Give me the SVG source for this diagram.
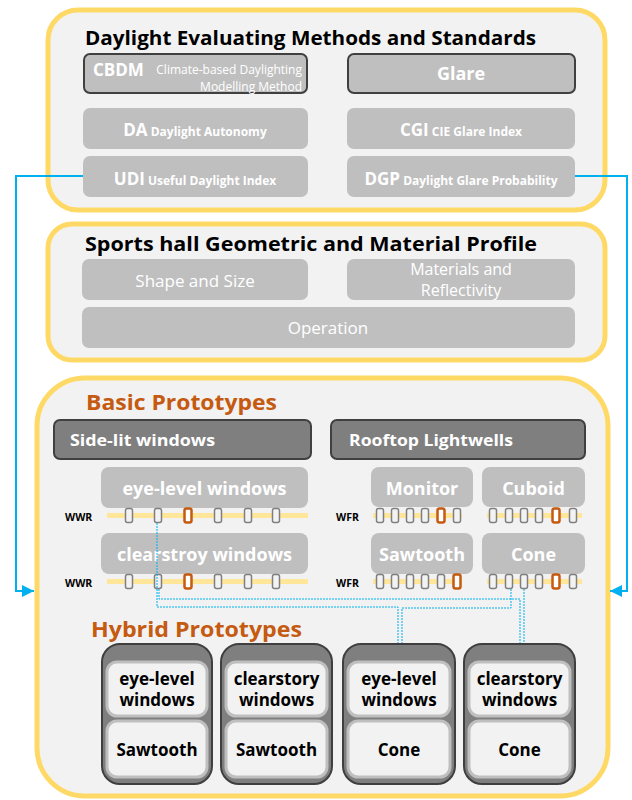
<svg xmlns="http://www.w3.org/2000/svg" width="632" height="800" viewBox="0 0 632 800">
<defs>
<style>
.panel{fill:#f2f2f2;stroke:#ffd966;stroke-width:5}
.gb{fill:#bfbfbf}
.gbs{fill:#bfbfbf;stroke:#404040;stroke-width:2}
.db{fill:#7f7f7f;stroke:#404040;stroke-width:2}
.hb{fill:#7f7f7f;stroke:#3f3f3f;stroke-width:2}
.hi{fill:#f2f2f2;stroke:#bfbfbf;stroke-width:3}
.f{font-family:"Open Sans","Noto Sans","DejaVu Sans",sans-serif}
.w{fill:#ffffff}
.b{font-weight:bold}
.k{fill:#000000}
.o{fill:#c55a11}
.bar{fill:#ffe699}
.mk{fill:#f2f2f2;stroke:#7f7f7f;stroke-width:1.5}
.mko{fill:#ffffff;stroke:#c55a11;stroke-width:2.5}
.conn{fill:none;stroke:#00b0f0;stroke-width:2}
.dot{fill:none;stroke:#00b0f0;stroke-width:1;stroke-dasharray:2 1}
.lbl{font-size:10.5px;font-weight:bold;fill:#000}
</style>
<marker id="arr" viewBox="0 0 10 10" refX="10" refY="5" markerWidth="6" markerHeight="6" orient="auto" markerUnits="strokeWidth">
<path d="M0,0 L10,5 L0,10 z" fill="#00b0f0"/>
</marker>
<rect id="m" x="-3.5" y="-7" width="7" height="14" rx="2"/>
</defs>

<!-- Panels -->
<g id="panel-evaluating">
<rect class="panel" x="48" y="10" width="557" height="200" rx="30"/>
<text class="f b k" x="85" y="45" font-size="20" textLength="451" lengthAdjust="spacingAndGlyphs">Daylight Evaluating Methods and Standards</text>
</g>
<g id="node-cbdm">
<rect class="gbs" x="84" y="54" width="223" height="39" rx="6"/>
<text class="f b w" x="93" y="76" font-size="17">CBDM</text>
<text class="f w" x="302" y="74" font-size="12" text-anchor="end">Climate-based Daylighting</text>
<text class="f w" x="302" y="91" font-size="12" text-anchor="end">Modelling Method</text>
</g>
<g id="node-glare">
<rect class="gbs" x="348" y="54" width="227" height="39" rx="6"/>
<text class="f b w" x="461" y="80" font-size="18" text-anchor="middle">Glare</text>
</g>
<g id="node-da">
<rect class="gb" x="83" y="108" width="225" height="41" rx="7"/>
<text class="f b w" x="195" y="136" text-anchor="middle"><tspan font-size="17">DA</tspan><tspan font-size="12"> Daylight Autonomy</tspan></text>
</g>
<g id="node-cgi">
<rect class="gb" x="347" y="108" width="228" height="41" rx="7"/>
<text class="f b w" x="461" y="136" text-anchor="middle"><tspan font-size="17">CGI</tspan><tspan font-size="12"> CIE Glare Index</tspan></text>
</g>
<g id="node-udi">
<rect class="gb" x="83" y="156" width="225" height="41" rx="7"/>
<text class="f b w" x="195" y="185" text-anchor="middle"><tspan font-size="17">UDI</tspan><tspan font-size="12"> Useful Daylight Index</tspan></text>
</g>
<g id="node-dgp">
<rect class="gb" x="347" y="156" width="228" height="41" rx="7"/>
<text class="f b w" x="461" y="185" text-anchor="middle"><tspan font-size="17">DGP</tspan><tspan font-size="12"> Daylight Glare Probability</tspan></text>
</g>

<g id="panel-profile">
<rect class="panel" x="48" y="224" width="557" height="136" rx="24"/>
<text class="f b k" x="85" y="251" font-size="20" textLength="452" lengthAdjust="spacingAndGlyphs">Sports hall Geometric and Material Profile</text>
</g>
<g id="node-shape">
<rect class="gb" x="82" y="259" width="226" height="41" rx="7"/>
<text class="f w" x="195" y="287" font-size="17" text-anchor="middle">Shape and Size</text>
</g>
<g id="node-materials">
<rect class="gb" x="347" y="259" width="228" height="41" rx="7"/>
<text class="f w" x="461" y="275" font-size="16" text-anchor="middle">Materials and</text>
<text class="f w" x="461" y="296" font-size="16" text-anchor="middle">Reflectivity</text>
</g>
<g id="node-operation">
<rect class="gb" x="82" y="307" width="493" height="41" rx="7"/>
<text class="f w" x="328" y="334" font-size="17" text-anchor="middle">Operation</text>
</g>

<g id="panel-prototypes">
<rect class="panel" x="37" y="378" width="571" height="418" rx="48"/>
<text class="f b o" x="86" y="410" font-size="22" textLength="191" lengthAdjust="spacingAndGlyphs">Basic Prototypes</text>
<text class="f b o" x="91" y="637" font-size="22" textLength="211" lengthAdjust="spacingAndGlyphs">Hybrid Prototypes</text>
</g>
<g id="node-sidelit">
<rect class="db" x="54" y="420" width="257" height="39" rx="6"/>
<text class="f b w" x="70" y="446" font-size="16" textLength="145" lengthAdjust="spacingAndGlyphs">Side-lit windows</text>
</g>
<g id="node-rooftop">
<rect class="db" x="331" y="420" width="254" height="39" rx="6"/>
<text class="f b w" x="349" y="446" font-size="16" textLength="164" lengthAdjust="spacingAndGlyphs">Rooftop Lightwells</text>
</g>

<g id="node-eyelevel">
<rect class="gb" x="101" y="467" width="207" height="41" rx="8"/>
<text class="f b w" x="204.5" y="495" font-size="18" text-anchor="middle">eye-level windows</text>
<text class="f lbl" x="65" y="521">WWR</text>
<rect class="bar" x="107" y="513" width="201" height="5"/>
<use href="#m" class="mk" x="129" y="515.5"/>
<use href="#m" class="mk" x="158" y="515.5"/>
<use href="#m" class="mko" x="188" y="515.5"/>
<use href="#m" class="mk" x="218" y="515.5"/>
<use href="#m" class="mk" x="248" y="515.5"/>
<use href="#m" class="mk" x="276" y="515.5"/>
</g>
<g id="node-clearstory">
<rect class="gb" x="101" y="533" width="207" height="41" rx="8"/>
<text class="f b w" x="204.5" y="561" font-size="18" text-anchor="middle">clearstroy windows</text>
<text class="f lbl" x="65" y="587">WWR</text>
<rect class="bar" x="107" y="579" width="201" height="5"/>
<use href="#m" class="mk" x="129" y="581.5"/>
<use href="#m" class="mk" x="158" y="581.5"/>
<use href="#m" class="mko" x="188" y="581.5"/>
<use href="#m" class="mk" x="218" y="581.5"/>
<use href="#m" class="mk" x="248" y="581.5"/>
<use href="#m" class="mk" x="276" y="581.5"/>
</g>
<g id="node-monitor">
<rect class="gb" x="371" y="467" width="102" height="40" rx="8"/>
<text class="f b w" x="422" y="495" font-size="18" text-anchor="middle">Monitor</text>
<text class="f lbl" x="336" y="521">WFR</text>
<rect class="bar" x="373" y="513" width="89" height="5"/>
<use href="#m" class="mk" x="380" y="515.5"/>
<use href="#m" class="mk" x="395" y="515.5"/>
<use href="#m" class="mk" x="410" y="515.5"/>
<use href="#m" class="mk" x="425" y="515.5"/>
<use href="#m" class="mko" x="441" y="515.5"/>
<use href="#m" class="mk" x="457" y="515.5"/>
</g>
<g id="node-cuboid">
<rect class="gb" x="482" y="467" width="103" height="40" rx="8"/>
<text class="f b w" x="533.5" y="495" font-size="18" text-anchor="middle">Cuboid</text>
<rect class="bar" x="487" y="513" width="95" height="5"/>
<use href="#m" class="mk" x="493" y="515.5"/>
<use href="#m" class="mk" x="509" y="515.5"/>
<use href="#m" class="mk" x="524" y="515.5"/>
<use href="#m" class="mk" x="539" y="515.5"/>
<use href="#m" class="mko" x="556" y="515.5"/>
<use href="#m" class="mk" x="573" y="515.5"/>
</g>
<g id="node-sawtooth">
<rect class="gb" x="371" y="533" width="102" height="41" rx="8"/>
<text class="f b w" x="422" y="561" font-size="18" text-anchor="middle">Sawtooth</text>
<text class="f lbl" x="336" y="587">WFR</text>
<rect class="bar" x="373" y="579" width="89" height="5"/>
<use href="#m" class="mk" x="380" y="581.5"/>
<use href="#m" class="mk" x="395" y="581.5"/>
<use href="#m" class="mk" x="410" y="581.5"/>
<use href="#m" class="mk" x="425" y="581.5"/>
<use href="#m" class="mk" x="441" y="581.5"/>
<use href="#m" class="mko" x="457" y="581.5"/>
</g>
<g id="node-cone">
<rect class="gb" x="482" y="533" width="103" height="41" rx="8"/>
<text class="f b w" x="533.5" y="561" font-size="18" text-anchor="middle">Cone</text>
<rect class="bar" x="487" y="579" width="95" height="5"/>
<use href="#m" class="mk" x="493" y="581.5"/>
<use href="#m" class="mk" x="509" y="581.5"/>
<use href="#m" class="mk" x="524" y="581.5"/>
<use href="#m" class="mk" x="539" y="581.5"/>
<use href="#m" class="mko" x="556" y="581.5"/>
<use href="#m" class="mk" x="573" y="581.5"/>
</g>

<!-- Connectors -->
<g id="connectors">
<path class="conn" d="M83,176 H16 V591 H34" marker-end="url(#arr)"/>
<path class="conn" d="M575,176 H627 V591 H610" marker-end="url(#arr)"/>
<path class="dot" d="M157,523 V607 H398 V644"/>
<path class="dot" d="M511,589 V608 H402 V644"/>
<path class="dot" d="M159,589 V599 H520 V644"/>
<path class="dot" d="M524,589 V644"/>
</g>

<!-- Hybrid prototypes -->
<g id="hybrid-1">
<rect class="hb" x="102" y="644" width="110" height="140" rx="18"/>
<rect class="hi" x="107" y="662" width="100" height="54" rx="10"/>
<rect class="hi" x="107" y="721" width="100" height="56" rx="10"/>
<text class="f b k" x="157" y="685" font-size="17" text-anchor="middle">eye-level</text>
<text class="f b k" x="157" y="706" font-size="17" text-anchor="middle">windows</text>
<text class="f b k" x="157" y="756" font-size="17" text-anchor="middle">Sawtooth</text>
</g>
<g id="hybrid-2">
<rect class="hb" x="221" y="644" width="111" height="140" rx="18"/>
<rect class="hi" x="226" y="662" width="101" height="54" rx="10"/>
<rect class="hi" x="226" y="721" width="101" height="56" rx="10"/>
<text class="f b k" x="276.5" y="685" font-size="17" text-anchor="middle">clearstory</text>
<text class="f b k" x="276.5" y="706" font-size="17" text-anchor="middle">windows</text>
<text class="f b k" x="276.5" y="756" font-size="17" text-anchor="middle">Sawtooth</text>
</g>
<g id="hybrid-3">
<rect class="hb" x="343" y="644" width="112" height="140" rx="18"/>
<rect class="hi" x="348" y="662" width="102" height="54" rx="10"/>
<rect class="hi" x="348" y="721" width="102" height="56" rx="10"/>
<text class="f b k" x="399" y="685" font-size="17" text-anchor="middle">eye-level</text>
<text class="f b k" x="399" y="706" font-size="17" text-anchor="middle">windows</text>
<text class="f b k" x="399" y="756" font-size="17" text-anchor="middle">Cone</text>
</g>
<g id="hybrid-4">
<rect class="hb" x="464" y="644" width="111" height="140" rx="18"/>
<rect class="hi" x="469" y="662" width="101" height="54" rx="10"/>
<rect class="hi" x="469" y="721" width="101" height="56" rx="10"/>
<text class="f b k" x="519.5" y="685" font-size="17" text-anchor="middle">clearstory</text>
<text class="f b k" x="519.5" y="706" font-size="17" text-anchor="middle">windows</text>
<text class="f b k" x="519.5" y="756" font-size="17" text-anchor="middle">Cone</text>
</g>
</svg>
